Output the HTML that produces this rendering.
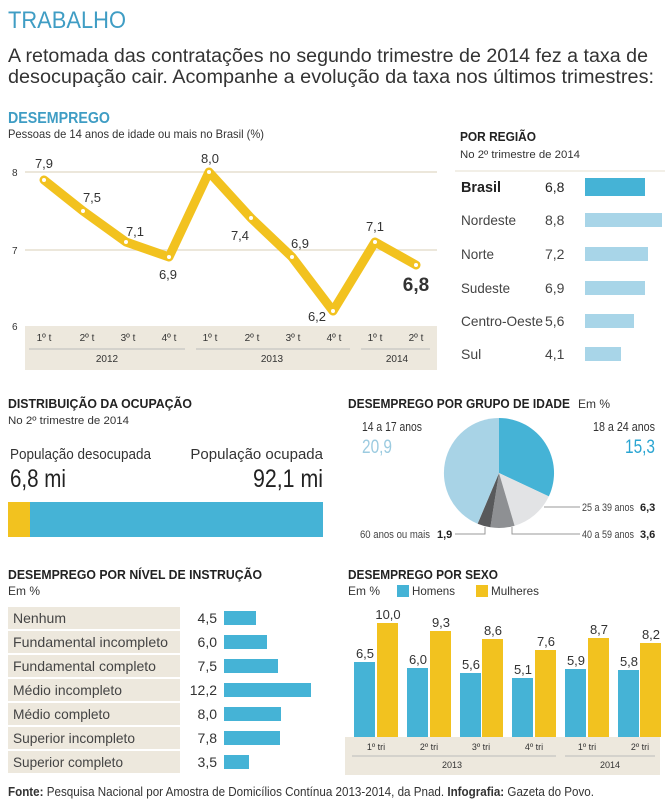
<!DOCTYPE html>
<html><head><meta charset="utf-8"><style>
body{margin:0;background:#fff;}
svg{display:block;font-family:"Liberation Sans",sans-serif;}
</style></head><body>
<svg width="670" height="802" viewBox="0 0 670 802" xmlns="http://www.w3.org/2000/svg">
<text x="8" y="28" font-size="24" fill="#3f9dc4" textLength="118" lengthAdjust="spacingAndGlyphs">TRABALHO</text>
<text x="8" y="62" font-size="19" fill="#333" textLength="640" lengthAdjust="spacingAndGlyphs">A retomada das contratações no segundo trimestre de 2014 fez a taxa de</text>
<text x="8" y="83" font-size="19" fill="#333" textLength="646" lengthAdjust="spacingAndGlyphs">desocupação cair. Acompanhe a evolução da taxa nos últimos trimestres:</text>

<!-- DESEMPREGO line chart -->
<text x="8" y="123" font-size="16" font-weight="bold" fill="#3f9dc4" textLength="102" lengthAdjust="spacingAndGlyphs">DESEMPREGO</text>
<text x="8" y="138" font-size="12" fill="#333" textLength="256" lengthAdjust="spacingAndGlyphs">Pessoas de 14 anos de idade ou mais no Brasil (%)</text>
<line x1="25" y1="172" x2="437" y2="172" stroke="#e6dfcf" stroke-width="1.5"/>
<line x1="25" y1="250" x2="437" y2="250" stroke="#e6dfcf" stroke-width="1.5"/>
<text x="12" y="176" font-size="10" fill="#333">8</text>
<text x="12" y="254" font-size="10" fill="#333">7</text>
<text x="12" y="330" font-size="10" fill="#333">6</text>
<rect x="25" y="326" width="412" height="44" fill="#ede8dd"/>
<g font-size="10" fill="#333" text-anchor="middle">
<text x="44" y="341">1º t</text><text x="87" y="341">2º t</text><text x="128" y="341">3º t</text><text x="169" y="341">4º t</text>
<text x="210" y="341">1º t</text><text x="252" y="341">2º t</text><text x="293" y="341">3º t</text><text x="334" y="341">4º t</text>
<text x="375" y="341">1º t</text><text x="416" y="341">2º t</text>
<text x="107" y="362">2012</text><text x="272" y="362">2013</text><text x="397" y="362">2014</text>
</g>
<g stroke="#bbb" stroke-width="1"><line x1="29" y1="349" x2="185" y2="349"/><line x1="196" y1="349" x2="350" y2="349"/><line x1="361" y1="349" x2="430" y2="349"/></g>
<polyline points="44,180 83,211 126,242 169,257 209,172 251,218 292,257 333,311 375,242 416,265" fill="none" stroke="#f2c21f" stroke-width="9" stroke-linejoin="round" stroke-linecap="round"/>
<g fill="#fff"><circle cx="44" cy="180" r="2"/><circle cx="83" cy="211" r="2"/><circle cx="126" cy="242" r="2"/><circle cx="169" cy="257" r="2"/><circle cx="209" cy="172" r="2"/><circle cx="251" cy="218" r="2"/><circle cx="292" cy="257" r="2"/><circle cx="333" cy="311" r="2"/><circle cx="375" cy="242" r="2"/><circle cx="416" cy="265" r="2"/></g>
<g font-size="13" fill="#333" text-anchor="middle">
<text x="44" y="168">7,9</text><text x="92" y="202">7,5</text><text x="135" y="236">7,1</text><text x="168" y="279">6,9</text>
<text x="210" y="163">8,0</text><text x="240" y="240">7,4</text><text x="300" y="248">6,9</text><text x="317" y="321">6,2</text>
<text x="375" y="231">7,1</text><text x="416" y="291" font-size="19" font-weight="bold">6,8</text>
</g>

<!-- POR REGIÃO -->
<text x="460" y="141" font-size="13" font-weight="bold" fill="#222" textLength="76" lengthAdjust="spacingAndGlyphs">POR REGIÃO</text>
<text x="460" y="158" font-size="11" fill="#333" textLength="120" lengthAdjust="spacingAndGlyphs">No 2º trimestre de 2014</text>
<line x1="455" y1="171" x2="665" y2="171" stroke="#e6dfcf"/>
<g font-size="14" fill="#444">
<text x="461" y="192" font-weight="bold" fill="#222" font-size="15" textLength="40" lengthAdjust="spacingAndGlyphs">Brasil</text><text x="545" y="192" fill="#222">6,8</text>
<text x="461" y="225" textLength="55" lengthAdjust="spacingAndGlyphs">Nordeste</text><text x="545" y="225">8,8</text>
<text x="461" y="259" textLength="33" lengthAdjust="spacingAndGlyphs">Norte</text><text x="545" y="259">7,2</text>
<text x="461" y="293" textLength="49" lengthAdjust="spacingAndGlyphs">Sudeste</text><text x="545" y="293">6,9</text>
<text x="461" y="326" textLength="82" lengthAdjust="spacingAndGlyphs">Centro-Oeste</text><text x="545" y="326">5,6</text>
<text x="461" y="359">Sul</text><text x="545" y="359">4,1</text>
</g>
<rect x="585" y="178" width="60" height="18" fill="#45b3d6"/>
<rect x="585" y="213" width="77" height="14" fill="#a8d5e8"/>
<rect x="585" y="247" width="63" height="14" fill="#a8d5e8"/>
<rect x="585" y="281" width="60" height="14" fill="#a8d5e8"/>
<rect x="585" y="314" width="49" height="14" fill="#a8d5e8"/>
<rect x="585" y="347" width="36" height="14" fill="#a8d5e8"/>

<!-- DISTRIBUIÇÃO -->
<text x="8" y="408" font-size="13" font-weight="bold" fill="#222" textLength="184" lengthAdjust="spacingAndGlyphs">DISTRIBUIÇÃO DA OCUPAÇÃO</text>
<text x="8" y="424" font-size="11" fill="#333" textLength="121" lengthAdjust="spacingAndGlyphs">No 2º trimestre de 2014</text>
<text x="10" y="459" font-size="15" fill="#333" textLength="141" lengthAdjust="spacingAndGlyphs">População desocupada</text>
<text x="10" y="487" font-size="25" fill="#222" textLength="56" lengthAdjust="spacingAndGlyphs">6,8 mi</text>
<text x="323" y="459" font-size="15" fill="#333" text-anchor="end">População ocupada</text>
<text x="253" y="487" font-size="25" fill="#222" textLength="70" lengthAdjust="spacingAndGlyphs">92,1 mi</text>
<rect x="8" y="502" width="22" height="35" fill="#f2c21f"/>
<rect x="30" y="502" width="293" height="35" fill="#45b3d6"/>

<!-- PIE -->
<text x="348" y="408" font-size="13" font-weight="bold" fill="#222" textLength="222" lengthAdjust="spacingAndGlyphs">DESEMPREGO POR GRUPO DE IDADE</text>
<text x="578" y="408" font-size="12" fill="#333">Em %</text>
<text x="362" y="431" font-size="13" fill="#333" textLength="60" lengthAdjust="spacingAndGlyphs">14 a 17 anos</text>
<text x="362" y="453" font-size="19" fill="#9ccbe0" textLength="30" lengthAdjust="spacingAndGlyphs">20,9</text>
<text x="593" y="431" font-size="13" fill="#333" textLength="62" lengthAdjust="spacingAndGlyphs">18 a 24 anos</text>
<text x="625" y="453" font-size="19" fill="#2aa5d2" textLength="30" lengthAdjust="spacingAndGlyphs">15,3</text>
<g transform="translate(499,473)">
<path d="M0,0 L0,-55 A55,55 0 0 1 49.8,23.4 Z" fill="#45b3d6"/>
<path d="M0,0 L49.8,23.4 A55,55 0 0 1 15.6,52.7 Z" fill="#e2e3e5"/>
<path d="M0,0 L15.6,52.7 A55,55 0 0 1 -8.6,54.3 Z" fill="#8e9093"/>
<path d="M0,0 L-8.6,54.3 A55,55 0 0 1 -21.4,50.7 Z" fill="#58595b"/>
<path d="M0,0 L-21.4,50.7 A55,55 0 0 1 0,-55 Z" fill="#a8d3e6"/>
</g>
<g stroke="#999" fill="none"><polyline points="544,507 580,507"/><polyline points="512,527 512,534 580,534"/><polyline points="485,527 485,534 455,534"/></g>
<g font-size="11" fill="#444">
<text x="582" y="511" textLength="52" lengthAdjust="spacingAndGlyphs">25 a 39 anos</text><text x="640" y="511" font-weight="bold" fill="#222">6,3</text>
<text x="582" y="538" textLength="52" lengthAdjust="spacingAndGlyphs">40 a 59 anos</text><text x="640" y="538" font-weight="bold" fill="#222">3,6</text>
<text x="360" y="538" textLength="70" lengthAdjust="spacingAndGlyphs">60 anos ou mais</text><text x="437" y="538" font-weight="bold" fill="#222">1,9</text>
</g>

<!-- INSTRUÇÃO -->
<text x="8" y="579" font-size="13" font-weight="bold" fill="#222" textLength="254" lengthAdjust="spacingAndGlyphs">DESEMPREGO POR NÍVEL DE INSTRUÇÃO</text>
<text x="8" y="595" font-size="12" fill="#333">Em %</text>
<g fill="#ede8dd">
<rect x="8" y="607" width="172" height="22"/><rect x="8" y="631" width="172" height="22"/><rect x="8" y="655" width="172" height="22"/><rect x="8" y="679" width="172" height="22"/><rect x="8" y="703" width="172" height="22"/><rect x="8" y="727" width="172" height="22"/><rect x="8" y="751" width="172" height="22"/>
</g>
<g font-size="14" fill="#444">
<text x="13" y="623" textLength="53" lengthAdjust="spacingAndGlyphs">Nenhum</text>
<text x="13" y="647" textLength="155" lengthAdjust="spacingAndGlyphs">Fundamental incompleto</text>
<text x="13" y="671" textLength="143" lengthAdjust="spacingAndGlyphs">Fundamental completo</text>
<text x="13" y="695" textLength="109" lengthAdjust="spacingAndGlyphs">Médio incompleto</text>
<text x="13" y="719" textLength="97" lengthAdjust="spacingAndGlyphs">Médio completo</text>
<text x="13" y="743" textLength="122" lengthAdjust="spacingAndGlyphs">Superior incompleto</text>
<text x="13" y="767" textLength="110" lengthAdjust="spacingAndGlyphs">Superior completo</text>
</g>
<g font-size="14" fill="#333" text-anchor="end">
<text x="217" y="623">4,5</text><text x="217" y="647">6,0</text><text x="217" y="671">7,5</text><text x="217" y="695">12,2</text><text x="217" y="719">8,0</text><text x="217" y="743">7,8</text><text x="217" y="767">3,5</text>
</g>
<g fill="#45b3d6">
<rect x="224" y="611" width="32" height="14"/><rect x="224" y="635" width="43" height="14"/><rect x="224" y="659" width="54" height="14"/><rect x="224" y="683" width="87" height="14"/><rect x="224" y="707" width="57" height="14"/><rect x="224" y="731" width="56" height="14"/><rect x="224" y="755" width="25" height="14"/>
</g>

<!-- SEXO -->
<text x="348" y="579" font-size="13" font-weight="bold" fill="#222" textLength="150" lengthAdjust="spacingAndGlyphs">DESEMPREGO POR SEXO</text>
<text x="348" y="595" font-size="12" fill="#333">Em %</text>
<rect x="397" y="585" width="12" height="12" fill="#45b3d6"/><text x="412" y="595" font-size="12" fill="#333" textLength="43" lengthAdjust="spacingAndGlyphs">Homens</text>
<rect x="476" y="585" width="12" height="12" fill="#f2c21f"/><text x="491" y="595" font-size="12" fill="#333" textLength="48" lengthAdjust="spacingAndGlyphs">Mulheres</text>
<rect x="345" y="737" width="315" height="38" fill="#ede8dd"/>
<g fill="#45b3d6">
<rect x="354" y="662" width="21" height="75"/><rect x="407" y="668" width="21" height="69"/><rect x="460" y="673" width="21" height="64"/><rect x="512" y="678" width="21" height="59"/><rect x="565" y="669" width="21" height="68"/><rect x="618" y="670" width="21" height="67"/>
</g>
<g fill="#f2c21f">
<rect x="377" y="623" width="21" height="114"/><rect x="430" y="631" width="21" height="106"/><rect x="482" y="639" width="21" height="98"/><rect x="535" y="650" width="21" height="87"/><rect x="588" y="638" width="21" height="99"/><rect x="640" y="643" width="21" height="94"/>
</g>
<g font-size="13" fill="#333" text-anchor="middle">
<text x="365" y="658">6,5</text><text x="388" y="619">10,0</text>
<text x="418" y="664">6,0</text><text x="441" y="627">9,3</text>
<text x="471" y="669">5,6</text><text x="493" y="635">8,6</text>
<text x="523" y="674">5,1</text><text x="546" y="646">7,6</text>
<text x="576" y="665">5,9</text><text x="599" y="634">8,7</text>
<text x="629" y="666">5,8</text><text x="651" y="639">8,2</text>
</g>
<g font-size="9" fill="#333" text-anchor="middle">
<text x="376" y="750">1º tri</text><text x="429" y="750">2º tri</text><text x="481" y="750">3º tri</text><text x="534" y="750">4º tri</text><text x="587" y="750">1º tri</text><text x="640" y="750">2º tri</text>
<text x="452" y="768">2013</text><text x="610" y="768">2014</text>
</g>
<g stroke="#bbb"><line x1="352" y1="756" x2="556" y2="756"/><line x1="565" y1="756" x2="655" y2="756"/></g>

<text x="8" y="796" font-size="12.5" fill="#333" textLength="586" lengthAdjust="spacingAndGlyphs"><tspan font-weight="bold">Fonte:</tspan> Pesquisa Nacional por Amostra de Domicílios Contínua 2013-2014, da Pnad. <tspan font-weight="bold">Infografia:</tspan> Gazeta do Povo.</text>
</svg>
</body></html>
